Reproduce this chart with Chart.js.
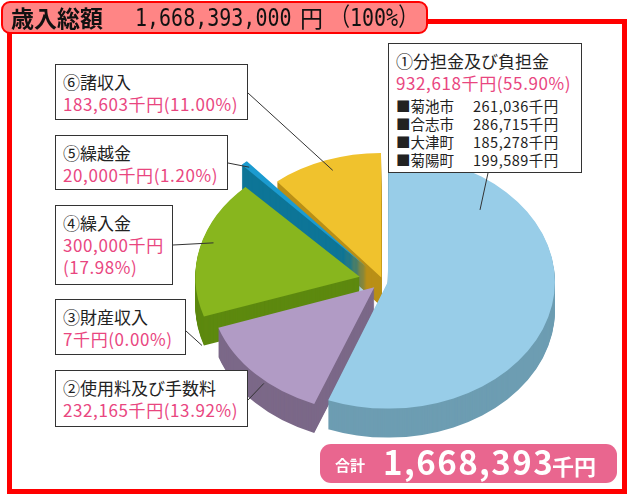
<!DOCTYPE html>
<html lang="ja">
<head>
<meta charset="utf-8">
<script src="https://cdn.jsdelivr.net/npm/chart.js@4.4.1/dist/chart.umd.min.js"></script>
<style>
  html, body { margin: 0; padding: 0; background: #fff; }
  body { width: 627px; height: 494px; position: relative; overflow: hidden;
         font-family: "Noto Sans CJK JP", "Noto Sans", sans-serif; }
  #frame { position: absolute; left: 7px; top: 19px; width: 620px; height: 475px;
           box-sizing: border-box; border: 5px solid #ff0000; }
  #myChart { position: absolute; left: 0; top: 0; }
  #title { position: absolute; left: 1px; top: 1px; width: 427px; height: 33px; box-sizing: border-box;
           border: 2px solid #ff0000; border-radius: 9px; background: #ff8585; color: #111;
           white-space: nowrap; }
  #title span { position: absolute; top: 0; line-height: 29px; transform-origin: 0 50%; }
  #title .jp { left: 8px; font-family: "Noto Sans CJK JP"; font-weight: bold; font-size: 23px; }
  #title .num { left: 132px; font-family: "DejaVu Sans Mono", monospace; font-size: 25px; transform: scaleX(0.8); }
  #title .yen { left: 297px; font-family: "Noto Sans CJK JP"; font-size: 23px; }
  #title .pct { left: 327px; font-family: "DejaVu Sans Mono", "Noto Sans CJK JP", monospace; font-size: 25px; transform: scaleX(0.8); }
  .box { position: absolute; box-sizing: border-box; border: 1px solid #333; background: #fff;
         padding: 6px 0 0 7px; font-size: 17px; line-height: 22px; color: #222; white-space: nowrap; }
  .box .val { color: #e9467f; letter-spacing: 0.6px; }
  .box .row { font-size: 14.5px; line-height: 18px; letter-spacing: 0.5px; }
  .box .row .nm { display: inline-block; width: 77px; letter-spacing: 0; }
  #total { position: absolute; left: 320px; top: 444px; width: 297px; height: 39px; border-radius: 11px;
           background: #e9668f; color: #fff; white-space: nowrap; font-weight: bold; line-height: 39px; }
  #total .k { font-size: 15px; position: absolute; left: 15px; top: 1px; }
  #total .n { font-size: 33px; position: absolute; left: 63px; top: -2px; letter-spacing: 1.5px; }
  #total .u { font-size: 22px; position: absolute; left: 232px; top: 2px; }
</style>
</head>
<body>
<div id="frame"></div>
<canvas id="myChart" width="627" height="494"></canvas>
<div id="title"></div>
<div id="labels"></div>
<div id="total"></div>
<script>
// 歳入の内訳（千円）
const categories = ['①分担金及び負担金', '②使用料及び手数料', '③財産収入', '④繰入金', '⑤繰越金', '⑥諸収入'];
const amounts = [932618, 232165, 7, 300000, 20000, 183603];
const percents = ['55.90', '13.92', '0.00', '17.98', '1.20', '11.00'];
const towns = ['菊池市', '合志市', '大津町', '菊陽町'];
const townAmounts = [261036, 286715, 185278, 199589];
const totalAmount = 1668393;
const totalYen = '1,668,393,000';

const topColors = ['#98cde8', '#b19bc5', '#eaa6c2', '#88b61e', '#1b9bd0', '#f0c22d'];
const sideColors = ['#6d9db2', '#7b6888', '#b87d95', '#5d890f', '#0d7597', '#b98f16'];
const explode = [20, 48, 80, 96, 96, 20];
const depth = 29;
const tilt = 0.76;

const fmt = n => n.toLocaleString('en-US');

// label boxes: [left, top, width, height], leader start, anchor (t, f, dz)
const boxes = [
    { pos: [388, 43, 194, 130], from: [488, 173], at: [0.22, 0.79, 0] },
    { pos: [55, 370, 193, 57], from: [248, 400], at: [0.46, 0.96, 10] },
    { pos: [55, 299, 131, 56], from: [186, 331], at: [0.5, 0.94, 18] },
    { pos: [55, 205, 118, 80], from: [173, 245], at: [0.55, 0.93, 0] },
    { pos: [55, 135, 173, 55], from: [228, 163], at: [0.5, 0.96, 0] },
    { pos: [55, 64, 193, 56], from: [248, 93], at: [0.52, 0.91, 0] }
];

document.getElementById('title').innerHTML =
    '<span class="jp">歳入総額</span><span class="num">' + totalYen + '</span><span class="yen">円</span><span class="pct">（100%）</span>';

document.getElementById('total').innerHTML =
    '<span class="k">合計</span><span class="n">' + fmt(totalAmount) + '</span><span class="u">千円</span>';

const labelsDiv = document.getElementById('labels');
categories.forEach((name, i) => {
    const b = boxes[i];
    const el = document.createElement('div');
    el.className = 'box';
    el.style.left = b.pos[0] + 'px';
    el.style.top = b.pos[1] + 'px';
    el.style.width = b.pos[2] + 'px';
    el.style.height = b.pos[3] + 'px';
    let html = '<div>' + name + '</div>';
    if (i === 3) {
        html += '<div class="val">' + fmt(amounts[i]) + '千円</div><div class="val">(' + percents[i] + '%)</div>';
    } else {
        html += '<div class="val">' + fmt(amounts[i]) + '千円(' + percents[i] + '%)</div>';
    }
    if (i === 0) {
        html += '<div style="margin-top:3px">';
        towns.forEach((t, j) => {
            html += '<div class="row"><span class="nm">■' + t + '</span>' + fmt(townAmounts[j]) + '千円</div>';
        });
        html += '</div>';
    }
    el.innerHTML = html;
    labelsDiv.appendChild(el);
});

function anchorPoint(chart, i, t, f, dz) {
    const arc = chart.getDatasetMeta(0).data[i];
    const p = arc.getProps(['x', 'y', 'startAngle', 'endAngle', 'outerRadius', 'circumference']);
    const shift = (arc.options.offset || 0) / 4;
    const half = (p.startAngle + p.endAngle) / 2;
    const fix = 1 - Math.sin(Math.min(Math.PI, p.circumference));
    const r = (p.outerRadius + shift * fix) * f;
    const a = p.startAngle + (p.endAngle - p.startAngle) * t;
    const px = p.x + Math.cos(half) * shift + Math.cos(a) * r;
    const py = p.y + Math.sin(half) * shift + Math.sin(a) * r;
    return [px, p.y + (py - p.y) * tilt + dz];
}

const pie3d = {
    id: 'pie3d',
    beforeDatasetsDraw(chart) {
        const ctx = chart.ctx;
        const arcs = chart.getDatasetMeta(0).data;
        const cx = arcs[0].x, cy = arcs[0].y;
        ctx.save();
        ctx.translate(cx, cy);
        ctx.scale(1, tilt);
        ctx.translate(-cx, -cy);
        for (let d = depth; d > 0; d--) {
            ctx.save();
            ctx.translate(0, d / tilt);
            arcs.forEach((arc, i) => {
                const orig = arc.options;
                arc.options = Object.assign({}, orig, { backgroundColor: sideColors[i], borderWidth: 0 });
                arc.draw(ctx);
                arc.options = orig;
            });
            ctx.restore();
        }
    },
    afterDatasetsDraw(chart) {
        const ctx = chart.ctx;
        ctx.restore();
        ctx.save();
        ctx.strokeStyle = '#333';
        ctx.lineWidth = 1;
        boxes.forEach((b, i) => {
            const end = anchorPoint(chart, i, b.at[0], b.at[1], b.at[2]);
            ctx.beginPath();
            ctx.moveTo(b.from[0], b.from[1]);
            ctx.lineTo(end[0], end[1]);
            ctx.stroke();
        });
        ctx.restore();
    }
};

const ctx = document.getElementById('myChart');
const myChart = new Chart(ctx, {
    type: 'pie',
    data: {
        labels: categories,
        datasets: [{
            data: amounts,
            backgroundColor: topColors,
            borderWidth: 0,
            offset: explode,
            radius: 162
        }]
    },
    options: {
        responsive: false,
        animation: false,
        layout: { padding: { left: 139, right: 0, top: 68, bottom: 0 } },
        plugins: {
            legend: { display: false },
            tooltip: { enabled: false }
        }
    },
    plugins: [pie3d]
});
</script>
</body>
</html>
